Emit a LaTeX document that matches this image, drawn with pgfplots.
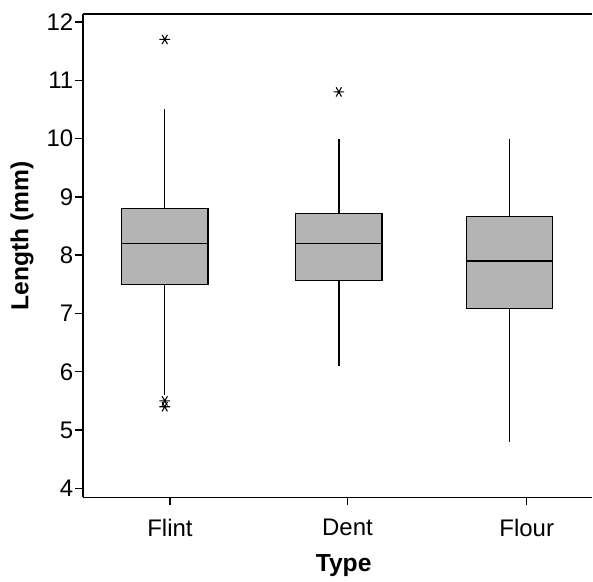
\documentclass[border=0pt]{standalone}
\usepackage{fontspec}
\setmainfont{Liberation Sans}
\usepackage{pgfplots}
\pgfplotsset{compat=1.18}
\usepgfplotslibrary{statistics}
\definecolor{boxgray}{RGB}{180,180,180}

\begin{document}
\begin{tikzpicture}
	\begin{axis}[
		scale only axis,
		width=382.5pt, height=363pt,
		xmin=0.525, xmax=3.48,
		ymin=3.846, ymax=12.137,
		axis x line*=box, axis y line*=left,
		axis line style={-, line width=1.2pt},
		xtick pos=bottom, ytick pos=left,
		tick align=outside,
		major tick length=6pt,
		tick style={line width=1pt, black},
		xtick={1.03,2.06,3.10},
		xticklabels={Flint,Dent,Flour},
		ytick={4,5,...,12},
		/pgf/number format/assume math mode=true,
		ticklabel style={font=\fontsize{18}{21}\selectfont},
		yticklabel style={inner sep=1pt},
		xticklabel style={inner sep=10pt},
		xlabel={\textbf{Type}},
		ylabel={\textbf{Length (mm)}},
		label style={font=\fontsize{18.5}{22}\selectfont},
		xlabel style={at={(axis description cs:0.512,0)}, anchor=center, yshift=-51pt},
		ylabel style={at={(axis description cs:0,0.5)}, anchor=center, yshift=45.75pt, xshift=15pt},
		boxplot/draw direction=y,
		boxplot/box extend=0.5,
		boxplot/whisker extend=0,
		clip=false,
		]
		\coordinate (tl) at (rel axis cs:0,1);
		\coordinate (bl) at (rel axis cs:0,0);
		% Flint
		\addplot[boxplot prepared={
			lower whisker=5.6, lower quartile=7.5, median=8.2,
			upper quartile=8.8, upper whisker=10.5, draw position=1},
			draw=black, line width=1pt, fill=boxgray,
			mark=asterisk, mark size=4pt, mark options={rotate=90, fill=black, line width=0.8pt}]
			table[row sep=\\, y index=0] {data\\ 11.7\\ 5.5\\ 5.4\\};
		% Dent
		\addplot[boxplot prepared={
			lower whisker=6.1, lower quartile=7.57, median=8.2,
			upper quartile=8.72, upper whisker=10.0, draw position=2.01},
			draw=black, line width=1pt, fill=boxgray,
			mark=asterisk, mark size=4pt, mark options={rotate=90, fill=black, line width=0.8pt}]
			table[row sep=\\, y index=0] {data\\ 10.8\\};
		% Flour
		\addplot[boxplot prepared={
			lower whisker=4.8, lower quartile=7.09, median=7.9,
			upper quartile=8.66, upper whisker=10.0, draw position=3},
			draw=black, line width=1pt, fill=boxgray]
			coordinates {};
	\end{axis}
	\path (tl) ++(0,10.5pt);
	\path (bl) ++(-62.25pt,-63pt);
\end{tikzpicture}
\end{document}
